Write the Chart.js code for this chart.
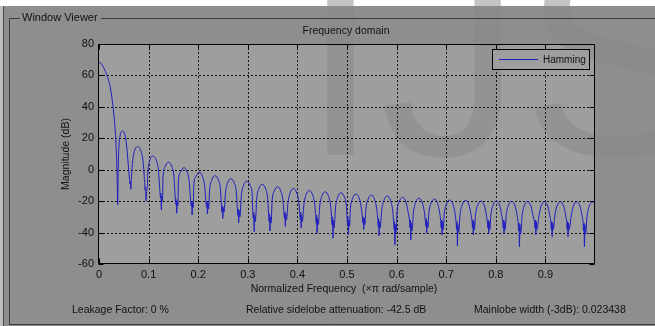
<!DOCTYPE html>
<html>
<head>
<meta charset="utf-8">
<title>Window Viewer</title>
<script src="https://cdn.jsdelivr.net/npm/chart.js@4.4.1/dist/chart.umd.min.js"></script>
<style>
  html, body { margin: 0; padding: 0; background: #8e8e8e; }
  canvas { display: block; }
</style>
</head>
<body>
<canvas id="wvCanvas" width="655" height="326"></canvas>
<script>
// Hamming window, frequency domain: magnitude (dB) vs normalized frequency (x pi rad/sample)

// main lobe down to its first null, [freq, dB]
const mainLobe = [
  [0, 68.3], [0.005, 67.4], [0.010, 64.5], [0.016, 60], [0.0228, 52.4], [0.0283, 40],
  [0.031, 31.5], [0.0336, 20.6], [0.0356, 6], [0.0368, -8], [0.0376, -22.3]
];

// side lobes, each followed by the ragged null before the next one
const sidelobes = [
  [0.0388, 2], [0.040, 14], [0.0425, 21.5], [0.048, 24.6], [0.0545, 18.5], [0.0595, 1.5],
  [0.0615, -6], [0.0625, -9], [0.0632, -7.5], [0.064, -12.5], [0.0655, -4],
  [0.068, 5.8], [0.071, 11.5], [0.078, 14.7], [0.085, 11.5], [0.089, 5],
  [0.092, -8], [0.093, -13], [0.0938, -11], [0.0948, -19.7], [0.096, -14], [0.0972, -12],
  [0.0985, -2], [0.102, 5.6], [0.109, 8.6], [0.116, 5.6], [0.120, -1],
  [0.1228, -14], [0.124, -18], [0.1247, -15], [0.1256, -25.6], [0.1268, -17], [0.128, -20],
  [0.129, -5], [0.133, 1.8], [0.140, 4.8], [0.147, 1.8], [0.151, -4],
  [0.1538, -18], [0.155, -22], [0.1557, -19], [0.1566, -27.7], [0.1578, -20], [0.159, -23],
  [0.160, -8], [0.164, -1.7], [0.171, 1.3], [0.178, -1.7], [0.182, -8],
  [0.1848, -20], [0.186, -23], [0.1868, -20], [0.1876, -28.8], [0.1888, -21], [0.190, -24],
  [0.191, -10.5], [0.195, -4.5], [0.202, -1.5], [0.209, -4.5], [0.213, -10.5],
  [0.2158, -21], [0.217, -24], [0.2178, -20], [0.2186, -28.2], [0.2198, -21], [0.221, -25],
  [0.223, -12.8], [0.227, -6.8], [0.234, -3.8], [0.241, -6.8], [0.245, -12.8],
  [0.2468, -23], [0.248, -27], [0.2487, -23], [0.2496, -31], [0.2508, -24], [0.252, -27],
  [0.255, -14.7], [0.259, -8.7], [0.266, -5.7], [0.273, -8.7], [0.277, -14.7],
  [0.2788, -24], [0.280, -29], [0.2808, -25], [0.2816, -33.7], [0.2828, -26], [0.284, -30],
  [0.287, -16.3], [0.291, -10.3], [0.298, -7.3], [0.305, -10.3], [0.309, -16.3],
  [0.310, -26], [0.3112, -31], [0.312, -27], [0.3128, -39.4], [0.314, -29], [0.3152, -33],
  [0.318, -18.3], [0.322, -12.3], [0.329, -9.3], [0.336, -12.3], [0.340, -18.3],
  [0.3418, -28], [0.343, -33], [0.3438, -28], [0.3446, -39], [0.3458, -30], [0.347, -34],
  [0.349, -19.9], [0.353, -13.9], [0.360, -10.9], [0.367, -13.9], [0.371, -19.9],
  [0.3728, -27], [0.374, -31], [0.3748, -27], [0.3756, -36], [0.3768, -28], [0.378, -32],
  [0.381, -21], [0.385, -15], [0.392, -12], [0.399, -15], [0.403, -21],
  [0.4048, -28], [0.406, -32], [0.4068, -27], [0.4076, -37], [0.4088, -29], [0.410, -33],
  [0.413, -22.3], [0.417, -16.3], [0.424, -13.3], [0.431, -16.3], [0.435, -22.3],
  [0.4368, -29], [0.438, -34], [0.4388, -29], [0.4396, -40.4], [0.4408, -31], [0.442, -35],
  [0.445, -23.1], [0.449, -17.1], [0.456, -14.1], [0.463, -17.1], [0.467, -23.1],
  [0.4688, -30], [0.470, -35], [0.4708, -30], [0.4716, -43.6], [0.4728, -32], [0.474, -37],
  [0.477, -23.7], [0.481, -17.7], [0.488, -14.7], [0.495, -17.7], [0.499, -23.7],
  [0.500, -30], [0.5012, -35], [0.502, -30], [0.5028, -41.5], [0.504, -32], [0.5052, -36],
  [0.507, -24.5], [0.511, -18.5], [0.518, -15.5], [0.525, -18.5], [0.529, -24.5],
  [0.5308, -30], [0.532, -34], [0.5328, -30], [0.5336, -38], [0.5348, -31], [0.536, -35],
  [0.538, -25.2], [0.542, -19.2], [0.549, -16.2], [0.556, -19.2], [0.560, -25.2],
  [0.5618, -31], [0.563, -36], [0.5638, -31], [0.5646, -42], [0.5658, -33], [0.567, -37],
  [0.570, -25.8], [0.574, -19.8], [0.581, -16.8], [0.588, -19.8], [0.592, -25.8],
  [0.5938, -32], [0.595, -38], [0.5958, -33], [0.5966, -47.8], [0.5978, -35], [0.599, -40],
  [0.601, -26.6], [0.605, -20.6], [0.612, -17.6], [0.619, -20.6], [0.623, -26.6],
  [0.6258, -32], [0.627, -37], [0.6278, -32], [0.6286, -44.6], [0.6298, -34], [0.631, -39],
  [0.634, -27.1], [0.638, -21.1], [0.645, -18.1], [0.652, -21.1], [0.656, -27.1],
  [0.6578, -32], [0.659, -36], [0.6598, -31], [0.6606, -40.4], [0.6618, -33], [0.663, -37],
  [0.665, -27.7], [0.669, -21.7], [0.676, -18.7], [0.683, -21.7], [0.687, -27.7],
  [0.6888, -32], [0.690, -37], [0.6908, -32], [0.6916, -41.5], [0.6928, -33], [0.694, -38],
  [0.696, -28.3], [0.700, -22.3], [0.707, -19.3], [0.714, -22.3], [0.718, -28.3],
  [0.7198, -33], [0.721, -38], [0.7218, -33], [0.7226, -48.5], [0.7238, -35], [0.725, -40],
  [0.728, -28.5], [0.732, -22.5], [0.739, -19.5], [0.746, -22.5], [0.750, -28.5],
  [0.7518, -32], [0.753, -37], [0.7538, -32], [0.7546, -41.5], [0.7558, -33], [0.757, -38],
  [0.759, -29], [0.763, -23], [0.770, -20], [0.777, -23], [0.781, -29],
  [0.7828, -33], [0.784, -37], [0.7848, -32], [0.7856, -40.8], [0.7868, -33], [0.788, -38],
  [0.790, -29], [0.794, -23], [0.801, -20], [0.808, -23], [0.812, -29],
  [0.8138, -33], [0.815, -37], [0.8158, -32], [0.8166, -40.4], [0.8178, -33], [0.819, -38],
  [0.821, -29.1], [0.825, -23.1], [0.832, -20.1], [0.839, -23.1], [0.843, -29.1],
  [0.8448, -33], [0.846, -39], [0.8468, -34], [0.8476, -49], [0.8488, -35], [0.850, -41],
  [0.853, -29.3], [0.857, -23.3], [0.864, -20.3], [0.871, -23.3], [0.875, -29.3],
  [0.8778, -33], [0.879, -37], [0.8798, -32], [0.8806, -41.5], [0.8818, -33], [0.883, -38],
  [0.887, -29.4], [0.891, -23.4], [0.898, -20.4], [0.905, -23.4], [0.909, -29.4],
  [0.9108, -33], [0.912, -38], [0.9128, -33], [0.9136, -42.5], [0.9148, -34], [0.916, -38],
  [0.919, -29.4], [0.923, -23.4], [0.930, -20.4], [0.937, -23.4], [0.941, -29.4],
  [0.9428, -33], [0.944, -38], [0.9448, -33], [0.9456, -42.5], [0.9468, -34], [0.948, -38],
  [0.952, -29.5], [0.956, -23.5], [0.963, -20.5], [0.970, -23.5], [0.974, -29.5],
  [0.9758, -33], [0.977, -39], [0.9778, -34], [0.9786, -49], [0.9798, -35], [0.981, -41],
  [0.984, -29.6], [0.988, -23.6], [0.995, -20.6], [1.0, -21.5]
];

const xTicks = [0, 0.1, 0.2, 0.3, 0.4, 0.5, 0.6, 0.7, 0.8, 0.9];
const yTicks = [-60, -40, -20, 0, 20, 40, 60, 80];
const seriesName = "Hamming";
const plotTitle = "Frequency domain";
const xTitle = "Normalized Frequency  (\u00d7\u03c0 rad/sample)";
const yTitle = "Magnitude (dB)";
const panelTitle = "Window Viewer";
// footer measurements: [text, x]
const footerStats = [
  ["Leakage Factor: 0 %", 72],
  ["Relative sidelobe attenuation: -42.5 dB", 246],
  ["Mainlobe width (-3dB): 0.023438", 474]
];

const FONT = '"Liberation Sans", Arial, sans-serif';
const FRAME_BG = "#8e8e8e";
const PLOT_BG = "#9e9e9e";
const INK = "#111111";
const LINE_BLUE = "rgb(30,30,190)";

const tracePoints = mainLobe.concat(sidelobes).map(([x, y]) => ({ x, y }));

const px = v => Math.round(v) + 0.5;

const viewerFrame = {
  id: "viewerFrame",
  beforeDraw(chart) {
    const { ctx, width, height, chartArea: a } = chart;
    ctx.save();
    ctx.fillStyle = FRAME_BG;
    ctx.fillRect(0, 0, width, height);
    ctx.fillStyle = "#ffffff";
    ctx.fillRect(0, 0, width, 6);
    ctx.fillStyle = "#bdbdbd";
    ctx.fillRect(0, 6, 3, height - 6);
    ctx.fillStyle = "#4a4a4a";
    ctx.fillRect(3, 6, 1, height - 6);

    ctx.fillStyle = PLOT_BG;
    ctx.fillRect(a.left, a.top, a.right - a.left, a.bottom - a.top);

    // watermark letters
    ctx.font = "284px " + FONT;
    ctx.textAlign = "left";
    ctx.textBaseline = "alphabetic";
    ctx.fillStyle = "rgba(135,135,135,0.5)";
    ctx.fillText("IJS", 301, 155);

    // group box
    ctx.strokeStyle = "#3c3c3c";
    ctx.lineWidth = 1;
    ctx.beginPath();
    ctx.moveTo(9.5, 325); ctx.lineTo(9.5, 18.5); ctx.lineTo(20, 18.5);
    ctx.moveTo(101, 18.5); ctx.lineTo(width, 18.5);
    ctx.moveTo(9.5, 324.5); ctx.lineTo(width, 324.5);
    ctx.stroke();
    ctx.font = "11px " + FONT;
    ctx.fillStyle = INK;
    ctx.textBaseline = "middle";
    ctx.fillText(panelTitle, 22, 18);
    ctx.restore();
  },
  beforeDatasetsDraw(chart) {
    const { ctx, chartArea: a, scales: { x, y } } = chart;
    ctx.save();
    ctx.strokeStyle = "#151515";
    ctx.lineWidth = 1;
    ctx.setLineDash([2, 2]);
    ctx.beginPath();
    xTicks.forEach(v => {
      if (v === 0) return;
      const X = px(x.getPixelForValue(v));
      ctx.moveTo(X, a.top); ctx.lineTo(X, a.bottom);
    });
    yTicks.forEach(v => {
      if (v === yTicks[0] || v === yTicks[yTicks.length - 1]) return;
      const Y = px(y.getPixelForValue(v));
      ctx.moveTo(a.left, Y); ctx.lineTo(a.right, Y);
    });
    ctx.stroke();
    ctx.restore();
  },
  afterDatasetsDraw(chart) {
    const { ctx, chartArea: a, scales: { x, y } } = chart;
    const L = px(a.left - 1), R = px(a.right - 1), T = px(a.top), B = px(a.bottom - 1);
    ctx.save();
    ctx.strokeStyle = "#000";
    ctx.lineWidth = 1;
    ctx.beginPath();
    ctx.rect(L, T, R - L, B - T);
    // inward tick marks on all four sides
    const tl = 5;
    xTicks.forEach(v => {
      const X = px(x.getPixelForValue(v));
      ctx.moveTo(X, B); ctx.lineTo(X, B - tl);
      ctx.moveTo(X, T); ctx.lineTo(X, T + tl);
    });
    yTicks.forEach(v => {
      const Y = px(y.getPixelForValue(v));
      ctx.moveTo(L, Y); ctx.lineTo(L + tl, Y);
      ctx.moveTo(R, Y); ctx.lineTo(R - tl, Y);
    });
    ctx.stroke();

    // legend box
    ctx.fillStyle = PLOT_BG;
    ctx.fillRect(492, 49, 98, 21);
    ctx.strokeStyle = "#000";
    ctx.strokeRect(492.5, 49.5, 97, 20);
    ctx.strokeStyle = LINE_BLUE;
    ctx.beginPath();
    ctx.moveTo(499, 59.5); ctx.lineTo(538, 59.5);
    ctx.stroke();
    ctx.font = "10px " + FONT;
    ctx.fillStyle = INK;
    ctx.textBaseline = "middle";
    ctx.textAlign = "left";
    ctx.fillText(seriesName, 543, 60);

    // titles
    ctx.font = "10.5px " + FONT;
    ctx.textAlign = "center";
    ctx.fillText(plotTitle, 346, 31);
    ctx.fillText(xTitle, 344, 289);
    ctx.save();
    ctx.translate(66, 154);
    ctx.rotate(-Math.PI / 2);
    ctx.fillText(yTitle, 0, 0);
    ctx.restore();

    // footer
    ctx.textAlign = "left";
    footerStats.forEach(([t, fx]) => ctx.fillText(t, fx, 310));
    ctx.restore();
  }
};

const tickFont = { family: FONT, size: 11 };

new Chart(document.getElementById("wvCanvas"), {
  type: "line",
  data: {
    datasets: [{
      label: seriesName,
      data: tracePoints,
      borderColor: LINE_BLUE,
      borderWidth: 1,
      pointRadius: 0,
      fill: false,
      cubicInterpolationMode: "monotone"
    }]
  },
  options: {
    responsive: false,
    animation: false,
    events: [],
    layout: { padding: { top: 44, right: 60, left: 0, bottom: 0 } },
    plugins: { legend: { display: false }, tooltip: { enabled: false }, title: { display: false } },
    scales: {
      x: {
        type: "linear", min: 0, max: 1,
        afterBuildTicks: s => { s.ticks = xTicks.map(v => ({ value: v })); },
        afterFit: s => { s.height = 62; },
        grid: { display: false, drawTicks: false },
        border: { display: false },
        ticks: { padding: 4, color: INK, font: tickFont, maxRotation: 0, autoSkip: false, callback: v => String(v) }
      },
      y: {
        type: "linear", min: -60, max: 80,
        afterBuildTicks: s => { s.ticks = yTicks.map(v => ({ value: v })); },
        afterFit: s => { s.width = 99; },
        grid: { display: false, drawTicks: false },
        border: { display: false },
        ticks: { padding: 5, color: INK, font: tickFont, callback: v => String(v) }
      }
    }
  },
  plugins: [viewerFrame]
});
</script>
</body>
</html>
